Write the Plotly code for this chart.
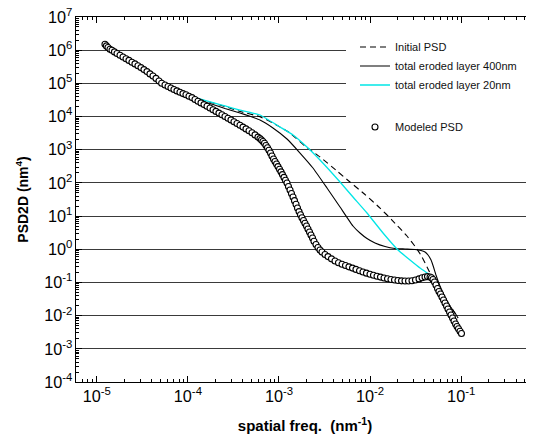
import plotly.graph_objects as go

# ---- values (stored as log10 of the quantity) ----
# x: spatial frequency (nm^-1), y: PSD2D (nm^4)

initial_log_f = [-4.910, -4.833, -4.745, -4.647, -4.515, -4.383, -4.288, -4.186, -4.087,
                 -3.977, -3.867, -3.724, -3.593, -3.428, -3.209, -3.066, -2.879, -2.715,
                 -2.550, -2.363, -2.221, -2.056, -1.891, -1.760, -1.595, -1.485, -1.430,
                 -1.375, -1.342, -1.266, -1.178, -1.090, -1.035]
initial_log_psd = [6.177, 5.999, 5.846, 5.692, 5.475, 5.222, 5.002, 4.860, 4.731,
                   4.604, 4.514, 4.408, 4.303, 4.152, 3.995, 3.805, 3.504, 3.112,
                   2.781, 2.359, 2.027, 1.650, 1.243, 0.882, 0.400, 0.008, -0.233,
                   -0.535, -0.716, -1.138, -1.499, -1.831, -2.072]

eroded400_log_f = [-4.910, -4.833, -4.745, -4.647, -4.515, -4.383, -4.288, -4.186, -4.087,
                   -3.977, -3.867, -3.724, -3.593, -3.428, -3.318, -3.209, -3.066, -2.912,
                   -2.769, -2.627, -2.473, -2.330, -2.188, -2.111, -2.034, -1.946, -1.836,
                   -1.727, -1.617, -1.507, -1.441, -1.397, -1.364, -1.331, -1.304, -1.277,
                   -1.233, -1.178, -1.123, -1.068, -1.035]
eroded400_log_psd = [6.177, 5.999, 5.846, 5.692, 5.475, 5.222, 5.002, 4.860, 4.731,
                     4.595, 4.483, 4.363, 4.242, 4.107, 4.007, 3.896, 3.655, 3.323,
                     2.901, 2.449, 1.846, 1.274, 0.701, 0.490, 0.324, 0.189, 0.083,
                     0.023, 0.008, -0.007, -0.037, -0.083, -0.173, -0.324, -0.535, -0.776,
                     -1.107, -1.439, -1.710, -1.921, -2.072]

eroded20_log_f = [-4.910, -4.833, -4.745, -4.647, -4.515, -4.383, -4.288, -4.186, -4.087,
                  -3.977, -3.867, -3.724, -3.593, -3.428, -3.209, -2.989, -2.846, -2.693,
                  -2.550, -2.330, -2.188, -2.034, -1.858, -1.694, -1.562, -1.452, -1.342,
                  -1.288, -1.233, -1.178, -1.123, -1.057]
eroded20_log_psd = [6.177, 5.999, 5.846, 5.692, 5.475, 5.222, 5.002, 4.860, 4.731,
                    4.619, 4.529, 4.423, 4.318, 4.197, 4.046, 3.685, 3.444, 3.082,
                    2.690, 2.027, 1.575, 1.093, 0.490, -0.022, -0.324, -0.565, -0.776,
                    -0.927, -1.288, -1.590, -1.891, -2.132]

modeled_log_f = [
    -4.910, -4.894, -4.877, -4.855, -4.833, -4.806, -4.778, -4.745, -4.712, -4.679,
    -4.647, -4.614, -4.581, -4.548, -4.515, -4.482, -4.449, -4.416, -4.383, -4.350,
    -4.317, -4.288,
    -4.251, -4.218, -4.186, -4.153, -4.120, -4.087, -4.054, -4.021, -3.988, -3.955,
    -3.922, -3.889, -3.856, -3.823, -3.790, -3.757, -3.724, -3.692, -3.659, -3.626,
    -3.593, -3.560, -3.527, -3.494, -3.461, -3.428, -3.395, -3.362, -3.329, -3.296,
    -3.263, -3.231, -3.209,
    -3.192, -3.176, -3.159, -3.143, -3.126, -3.110, -3.093, -3.077, -3.060, -3.044,
    -3.027, -3.011, -2.994, -2.978, -2.962, -2.945, -2.929, -2.912, -2.896, -2.879,
    -2.863, -2.846, -2.830, -2.813, -2.797, -2.780, -2.764, -2.748, -2.731, -2.715,
    -2.698, -2.682, -2.665, -2.649, -2.632, -2.616, -2.594, -2.572, -2.550, -2.528,
    -2.495, -2.462, -2.424, -2.385, -2.347, -2.308, -2.270, -2.232, -2.193, -2.155,
    -2.116, -2.078, -2.040, -2.001, -1.963, -1.924, -1.886, -1.847, -1.809, -1.771,
    -1.732, -1.694, -1.655, -1.617, -1.578, -1.540, -1.502, -1.463, -1.430, -1.397,
    -1.370, -1.342,
    -1.326, -1.310, -1.293, -1.277, -1.260, -1.244, -1.227, -1.211, -1.194, -1.178,
    -1.161, -1.145, -1.128, -1.112, -1.095, -1.079, -1.062, -1.046, -1.030, -1.013,
    -0.997]
modeled_log_psd = [
    6.177, 6.129, 6.081, 6.030, 5.999, 5.948, 5.900, 5.846, 5.794, 5.743,
    5.692, 5.638, 5.586, 5.532, 5.475, 5.415, 5.354, 5.285, 5.222, 5.149,
    5.071, 5.002,
    4.951, 4.905, 4.860, 4.815, 4.773, 4.731, 4.691, 4.655, 4.613, 4.571,
    4.514, 4.462, 4.411, 4.360, 4.309, 4.257, 4.206, 4.155, 4.104, 4.052,
    4.001, 3.950, 3.899, 3.844, 3.790, 3.736, 3.682, 3.627, 3.570, 3.510,
    3.447, 3.380, 3.335,
    3.293, 3.248, 3.193, 3.127, 3.058, 2.982, 2.901, 2.811, 2.720, 2.645,
    2.570, 2.491, 2.413, 2.334, 2.250, 2.166, 2.081, 1.997, 1.891, 1.786,
    1.680, 1.575, 1.466, 1.355, 1.243, 1.135, 1.039, 0.948, 0.867, 0.785,
    0.701, 0.611, 0.520, 0.430, 0.339, 0.243, 0.143, 0.053, -0.022, -0.083,
    -0.158, -0.221, -0.288, -0.354, -0.408, -0.450, -0.490, -0.529, -0.568, -0.607,
    -0.646, -0.686, -0.719, -0.752, -0.782, -0.812, -0.839, -0.866, -0.887, -0.909,
    -0.927, -0.939, -0.951, -0.957, -0.957, -0.948, -0.924, -0.893, -0.860, -0.836,
    -0.824, -0.836,
    -0.860, -0.912, -0.987, -1.077, -1.183, -1.273, -1.348, -1.439, -1.529, -1.620,
    -1.710, -1.801, -1.891, -1.981, -2.072, -2.162, -2.253, -2.328, -2.397, -2.470,
    -2.539]

series_names = ["Initial PSD", "total eroded layer 400nm", "total eroded layer 20nm", "Modeled PSD"]
x_title = "<b>spatial freq.\u00a0 (nm<sup>-1</sup>)</b>"
y_title = "<b>PSD2D (nm<sup>4</sup>)</b>"
x_decades = [-5, -4, -3, -2, -1]
y_decades = [-4, -3, -2, -1, 0, 1, 2, 3, 4, 5, 6, 7]


def unlog(vals):
    return [10 ** v for v in vals]


def decade_aliases(decades):
    # map plotly's default power labels onto plain "10^n" labels with an ASCII minus
    alias = {}
    for p in decades:
        if p == 0:
            alias["1"] = "10<sup>0</sup>"
        elif p == 1:
            alias["10"] = "10<sup>1</sup>"
        elif p < 0:
            alias["10<sup>\u2212%d</sup>" % abs(p)] = "10<sup>-%d</sup>" % abs(p)
    return alias


FONT = "Liberation Sans, Arial, Helvetica, sans-serif"

fig = go.Figure()
fig.add_trace(go.Scatter(
    x=unlog(initial_log_f), y=unlog(initial_log_psd), mode="lines", name=series_names[0],
    line=dict(color="black", width=1.1, dash="6px,4px", shape="spline", smoothing=0.4),
    legendgroup="g1"))
fig.add_trace(go.Scatter(
    x=unlog(eroded400_log_f), y=unlog(eroded400_log_psd), mode="lines", name=series_names[1],
    line=dict(color="black", width=1.1, shape="spline", smoothing=0.4),
    legendgroup="g1"))
fig.add_trace(go.Scatter(
    x=unlog(eroded20_log_f), y=unlog(eroded20_log_psd), mode="lines", name=series_names[2],
    line=dict(color="#00e6e6", width=1.3, shape="spline", smoothing=0.4),
    legendgroup="g1"))
fig.add_trace(go.Scatter(
    x=unlog(modeled_log_f), y=unlog(modeled_log_psd), mode="markers", name=series_names[3],
    marker=dict(symbol="circle", size=6, color="white", line=dict(width=1.1, color="black")),
    legendgroup="g2"))

# the page body adds an 8 px offset; size the figure so the plot area lands where the reference has it
fig.update_layout(
    width=526, height=435,
    margin=dict(l=68, r=0, t=9, b=61, autoexpand=False),
    paper_bgcolor="white", plot_bgcolor="white",
    font=dict(family=FONT, color="black", size=13),
    showlegend=True,
    legend=dict(
        x=(346 - 76) / 458, y=1 - (23.5 - 17) / 365, xanchor="left", yanchor="top",
        bgcolor="white", bordercolor="white", borderwidth=9,
        font=dict(family=FONT, size=11, color="#111"),
        traceorder="grouped", tracegroupgap=23,
    ),
    xaxis=dict(
        type="log", range=[-5.228, -0.201],
        tickmode="linear", tick0=0, dtick=1, exponentformat="power",
        labelalias=decade_aliases(x_decades),
        ticks="inside", ticklen=6, tickwidth=1, tickcolor="black",
        minor=dict(ticks="inside", ticklen=3, tickwidth=1, tickcolor="black", dtick="D1", showgrid=False),
        showgrid=False, zeroline=False,
        showline=True, linecolor="black", linewidth=1, mirror="allticks",
        tickfont=dict(family=FONT, size=13),
        title=dict(text=x_title, font=dict(family=FONT, size=15), standoff=16),
    ),
    yaxis=dict(
        type="log", range=[-4, 7],
        tickmode="linear", tick0=0, dtick=1, exponentformat="power",
        labelalias=decade_aliases(y_decades),
        ticks="inside", ticklen=6, tickwidth=1, tickcolor="black",
        minor=dict(ticks="inside", ticklen=3, tickwidth=1, tickcolor="black", dtick="D1", showgrid=False),
        showgrid=True, gridcolor="#3a3a3a", gridwidth=1, zeroline=False,
        showline=True, linecolor="black", linewidth=1, mirror=False,
        tickfont=dict(family=FONT, size=13), ticklabeloverflow="allow",
        title=dict(text=y_title, font=dict(family=FONT, size=14), standoff=12),
    ),
)

fig.write_html("out.html")
